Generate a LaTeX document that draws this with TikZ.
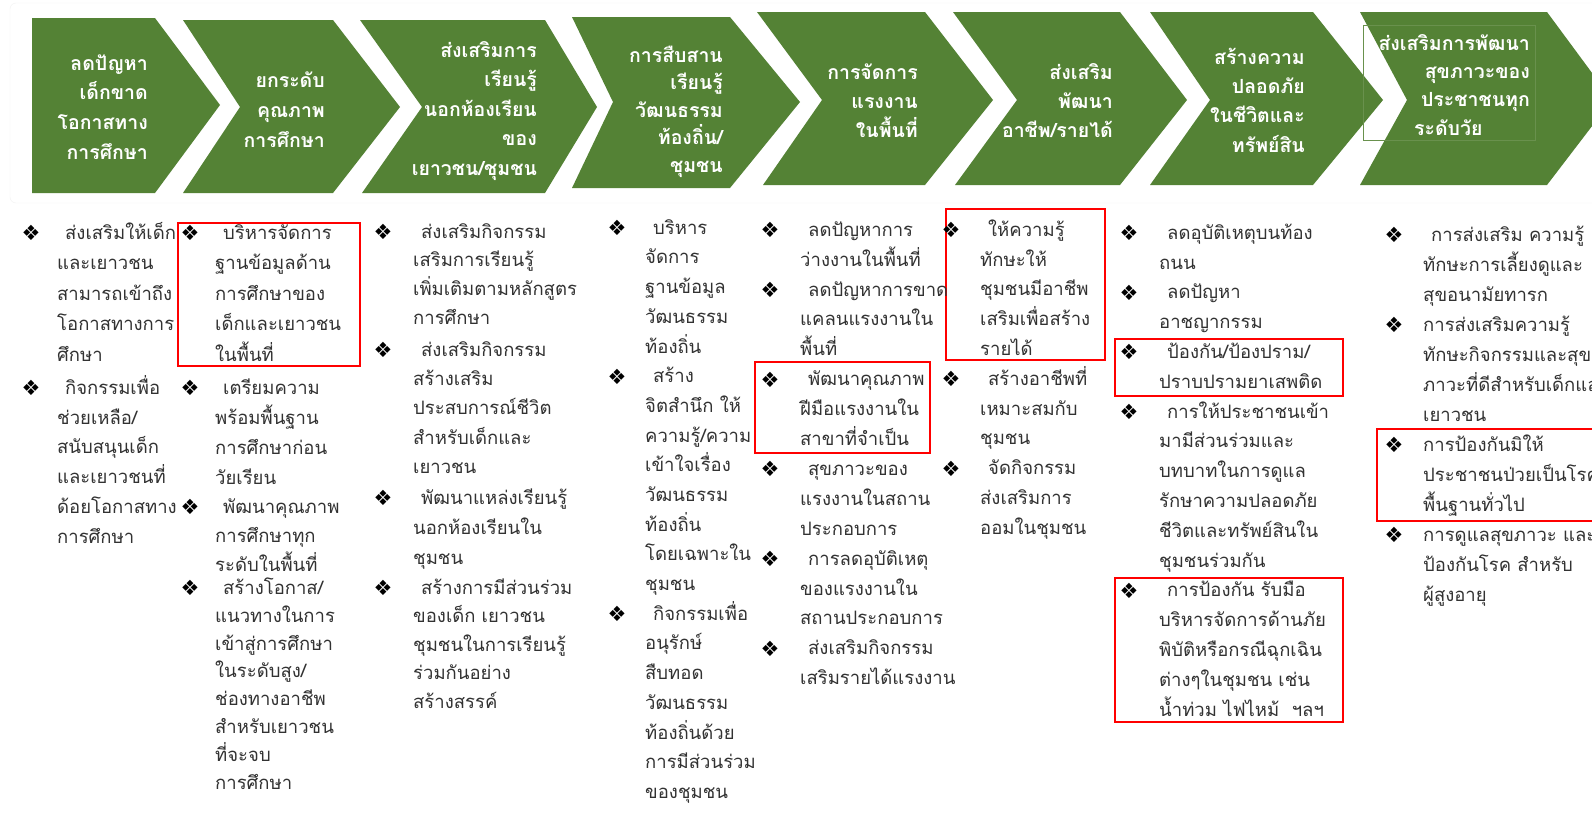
\documentclass[tikz,border=0pt]{standalone}
\usepackage{fontspec}
\usepackage{calc}
\newfontfamily\thai[Script=Thai]{Loma}
\newfontfamily\symf{DejaVu Sans}
\definecolor{chevgreen}{RGB}{84,130,53}
\definecolor{txtgray}{RGB}{50,50,50}
\newcommand\fst{\rule{0pt}{22pt}}
\newcommand\firstind{\rule{0pt}{22pt}\hspace*{8pt}}
\tikzset{
  chev/.style={fill=chevgreen},
  ctext/.style={text=white, font=\thai\bfseries\fontsize{19.5}{#1}\selectfont, align=right, inner sep=0, anchor=north east, yshift=22pt},
  ctext/.default=29,
  litem/.style={text=txtgray, font=\thai\fontsize{18.5}{#1}\selectfont, align=left, inner sep=0, anchor=north west, yshift=22pt},
  litem/.default=29.8,
  bul/.style={font=\symf\fontsize{21}{21}\selectfont, inner sep=0, anchor=center},
  redbox/.style={draw=red, line width=2pt}
}
\begin{document}
\begin{tikzpicture}[x=1pt,y=-1pt]
\useasboundingbox (0,0) rectangle (1592,814);
\clip (0,0) rectangle (1592,814);
\fill[white] (0,0) rectangle (1592,814);
% faint container
\draw[gray!10, rounded corners=6] (10,3) rectangle (1600,203);
% chevrons
\fill[chev] (32,18) -- (155,18) -- (220,105) -- (155,193) -- (32,193) -- cycle;
\fill[chev] (183,20) -- (333,20) -- (400,107) -- (333,193) -- (183,193) -- (240,107) -- cycle;
\fill[chev] (360,20) -- (545,20) -- (597,107) -- (545,193) -- (362,193) -- (422,107) -- cycle;
\fill[chev] (572,17) -- (730,17) -- (800,102) -- (730,188) -- (572,188) -- (613,102) -- cycle;
\fill[chev] (757,12) -- (925,12) -- (993,100) -- (925,185) -- (763,185) -- (822,100) -- cycle;
\fill[chev] (953,12) -- (1120,12) -- (1187,100) -- (1120,185) -- (955,185) -- (1017,100) -- cycle;
\fill[chev] (1150,12) -- (1313,12) -- (1383,100) -- (1313,185) -- (1150,185) -- (1210,100) -- cycle;
\fill[chev] (1360,12) -- (1547,12) -- (1612,100) -- (1547,185) -- (1360,185) -- (1407,100) -- cycle;
\draw[chevgreen!88!white, line width=0.5pt] (1363,25) rectangle (1535,140);
% chevron texts
\node[ctext=29.7] (t1) at (148,70) {\fst ลดปัญหา\\เด็กขาด\\โอกาสทาง\\การศึกษา};
\node[ctext=30] (t2) at (325,87) {\fst ยกระดับ\\คุณภาพ\\การศึกษา};
\node[ctext=29.5] (t3) at (537,57) {\fst ส่งเสริมการ\\เรียนรู้\\นอกห้องเรียน\\ของ\\เยาวชน/ชุมชน};
\node[ctext=27.5] (t4) at (723,62) {\fst การสืบสาน\\เรียนรู้\\วัฒนธรรม\\ท้องถิ่น/\\ชุมชน};
\node[ctext] (t5) at (918,79) {\fst การจัดการ\\แรงงาน\\ในพื้นที่};
\node[ctext] (t6) at (1113,79) {\fst ส่งเสริม\\พัฒนา\\อาชีพ/รายได้};
\node[ctext=29.3] (t7) at (1305,64) {\fst สร้างความ\\ปลอดภัย\\ในชีวิตและ\\ทรัพย์สิน};
\node[ctext=28.3] (t8) at (1530,50) {\fst ส่งเสริมการพัฒนา\\สุขภาวะของ\\ประชาชนทุก\\\makebox[\widthof{ประชาชนทุก}][l]{\hspace*{-7pt}ระดับวัย}};
% red boxes
\draw[redbox] (178,223) rectangle (360,366);
\draw[redbox] (755,362) rectangle (930,453);
\draw[redbox] (946,209) rectangle (1105,360);
\draw[redbox] (1115,339) rectangle (1343,396);
\draw[redbox] (1115,578) rectangle (1343,722);
\draw[redbox] (1377,429) rectangle (1610,521);
% column 1
\node[bul] (b1a) at (31,233) {❖};
\node[litem=30.5] (c1a) at (57,239) {\firstind ส่งเสริมให้เด็ก\\และเยาวชน\\สามารถเข้าถึง\\โอกาสทางการ\\ศึกษา};
\node[bul] (b1b) at (31,388) {❖};
\node[litem] (c1b) at (57,394) {\firstind กิจกรรมเพื่อ\\ช่วยเหลือ/\\สนับสนุนเด็ก\\และเยาวชนที่\\ด้อยโอกาสทาง\\การศึกษา};
% column 2
\node[bul] (b2a) at (190,233) {❖};
\node[litem=30.5] (c2a) at (215,239) {\firstind บริหารจัดการ\\ฐานข้อมูลด้าน\\การศึกษาของ\\เด็กและเยาวชน\\ในพื้นที่};
\node[bul] (b2b) at (190,388) {❖};
\node[litem=30] (c2b) at (215,394) {\firstind เตรียมความ\\พร้อมพื้นฐาน\\การศึกษาก่อน\\วัยเรียน};
\node[bul] (b2c) at (190,507) {❖};
\node[litem=29] (c2c) at (215,513) {\firstind พัฒนาคุณภาพ\\การศึกษาทุก\\ระดับในพื้นที่};
\node[bul] (b2d) at (190,588) {❖};
\node[litem=27.9] (c2d) at (215,594) {\firstind สร้างโอกาส/\\แนวทางในการ\\เข้าสู่การศึกษา\\ในระดับสูง/\\ช่องทางอาชีพ\\สำหรับเยาวชน\\ที่จะจบ\\การศึกษา};
% column 3
\node[bul] (b3a) at (383,232) {❖};
\node[litem=28.7] (c3a) at (413,238) {\firstind ส่งเสริมกิจกรรม\\เสริมการเรียนรู้\\เพิ่มเติมตามหลักสูตร\\การศึกษา};
\node[bul] (b3b) at (383,350) {❖};
\node[litem=29.3] (c3b) at (413,356) {\firstind ส่งเสริมกิจกรรม\\สร้างเสริม\\ประสบการณ์ชีวิต\\สำหรับเด็กและ\\เยาวชน};
\node[bul] (b3c) at (383,498) {❖};
\node[litem=30] (c3c) at (413,504) {\firstind พัฒนาแหล่งเรียนรู้\\นอกห้องเรียนใน\\ชุมชน};
\node[bul] (b3d) at (383,588) {❖};
\node[litem=28.5] (c3d) at (413,594) {\firstind สร้างการมีส่วนร่วม\\ของเด็ก เยาวชน\\ชุมชนในการเรียนรู้\\ร่วมกันอย่าง\\สร้างสรรค์};
% column 4
\node[bul] (b4a) at (617,228) {❖};
\node[litem=29.7] (c4a) at (645,234) {\firstind บริหาร\\จัดการ\\ฐานข้อมูล\\วัฒนธรรม\\ท้องถิ่น};
\node[bul] (b4b) at (617,376.5) {❖};
\node[litem=29.7] (c4b) at (645,382.5) {\firstind สร้าง\\จิตสำนึก ให้\\ความรู้/ความ\\เข้าใจเรื่อง\\วัฒนธรรม\\ท้องถิ่น\\โดยเฉพาะใน\\ชุมชน};
\node[bul] (b4c) at (617,614) {❖};
\node[litem=29.7] (c4c) at (645,620) {\firstind กิจกรรมเพื่อ\\อนุรักษ์\\สืบทอด\\วัฒนธรรม\\ท้องถิ่นด้วย\\การมีส่วนร่วม\\ของชุมชน};
% column 5
\node[bul] (b5a) at (770,230) {❖};
\node[litem=29.9] (c5a) at (800,236) {\firstind ลดปัญหาการ\\ว่างงานในพื้นที่};
\node[bul] (b5b) at (770,289.8) {❖};
\node[litem=29.9] (c5b) at (800,295.8) {\firstind ลดปัญหาการขาด\\แคลนแรงงานใน\\พื้นที่};
\node[bul] (b5c) at (770,379.5) {❖};
\node[litem=29.9] (c5c) at (800,385.5) {\firstind พัฒนาคุณภาพ\\ฝีมือแรงงานใน\\สาขาที่จำเป็น};
\node[bul] (b5d) at (770,469.2) {❖};
\node[litem=29.9] (c5d) at (800,475.2) {\firstind สุขภาวะของ\\แรงงานในสถาน\\ประกอบการ};
\node[bul] (b5e) at (770,558.9) {❖};
\node[litem=29.9] (c5e) at (800,564.9) {\firstind การลดอุบัติเหตุ\\ของแรงงานใน\\สถานประกอบการ};
\node[bul] (b5f) at (770,648.6) {❖};
\node[litem=29.9] (c5f) at (800,654.6) {\firstind ส่งเสริมกิจกรรม\\เสริมรายได้แรงงาน};
% column 6
\node[bul] (b6a) at (951,230) {❖};
\node[litem] (c6a) at (980,236) {\firstind ให้ความรู้\\ทักษะให้\\ชุมชนมีอาชีพ\\เสริมเพื่อสร้าง\\รายได้};
\node[bul] (b6b) at (951,379) {❖};
\node[litem] (c6b) at (980,385) {\firstind สร้างอาชีพที่\\เหมาะสมกับ\\ชุมชน};
\node[bul] (b6c) at (951,468.4) {❖};
\node[litem] (c6c) at (980,474.4) {\firstind จัดกิจกรรม\\ส่งเสริมการ\\ออมในชุมชน};
% column 7
\node[bul] (b7a) at (1129,233) {❖};
\node[litem] (c7a) at (1159,239) {\firstind ลดอุบัติเหตุบนท้อง\\ถนน};
\node[bul] (b7b) at (1129,292.6) {❖};
\node[litem] (c7b) at (1159,298.6) {\firstind ลดปัญหา\\อาชญากรรม};
\node[bul] (b7c) at (1129,352.2) {❖};
\node[litem] (c7c) at (1159,358.2) {\firstind ป้องกัน/ป้องปราม/\\ปราบปรามยาเสพติด};
\node[bul] (b7d) at (1129,411.8) {❖};
\node[litem] (c7d) at (1159,417.8) {\firstind การให้ประชาชนเข้า\\มามีส่วนร่วมและ\\บทบาทในการดูแล\\รักษาความปลอดภัย\\ชีวิตและทรัพย์สินใน\\ชุมชนร่วมกัน};
\node[bul] (b7e) at (1129,590.6) {❖};
\node[litem] (c7e) at (1159,596.6) {\firstind การป้องกัน รับมือ\\บริหารจัดการด้านภัย\\พิบัติหรือกรณีฉุกเฉิน\\ต่างๆในชุมชน เช่น\\น้ำท่วม ไฟไหม้ \ ฯลฯ};
% column 8
\node[bul] (b8a) at (1394,235) {❖};
\node[litem=30] (c8a) at (1423,241) {\firstind การส่งเสริม ความรู้\\ทักษะการเลี้ยงดูและ\\สุขอนามัยทารก};
\node[bul] (b8b) at (1394,325) {❖};
\node[litem=30] (c8b) at (1423,331) {\fst การส่งเสริมความรู้\\ทักษะกิจกรรมและสุข\\ภาวะที่ดีสำหรับเด็กและ\\เยาวชน};
\node[bul] (b8c) at (1394,445) {❖};
\node[litem=30] (c8c) at (1423,451) {\fst การป้องกันมิให้\\ประชาชนป่วยเป็นโรค\\พื้นฐานทั่วไป};
\node[bul] (b8d) at (1394,535) {❖};
\node[litem=30] (c8d) at (1423,541) {\fst การดูแลสุขภาวะ และ\\ป้องกันโรค สำหรับ\\ผู้สูงอายุ};
\end{tikzpicture}
\end{document}
